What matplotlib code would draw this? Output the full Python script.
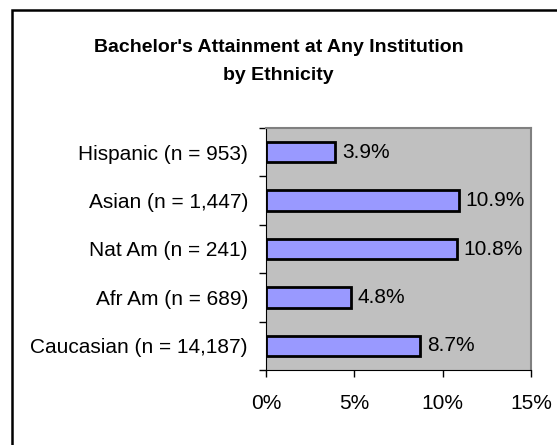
"""Bachelor's attainment at any institution, by ethnicity (horizontal bars)."""

import matplotlib

matplotlib.use("Agg")
import matplotlib.pyplot as plt
import numpy as np
from matplotlib.patches import Rectangle
from matplotlib.ticker import FixedLocator, PercentFormatter

# bottom to top, as drawn
GROUPS = [
    "Caucasian (n = 14,187)",
    "Afr Am (n = 689)",
    "Nat Am (n = 241)",
    "Asian (n = 1,447)",
    "Hispanic (n = 953)",
]
RATES = [8.7, 4.8, 10.8, 10.9, 3.9]
X_TICKS = [0, 5, 10, 15]

plt.rcParams["font.family"] = ["Liberation Sans", "DejaVu Sans"]

fig = plt.figure(figsize=(5.57, 4.45), dpi=100)
ax = fig.add_axes([266 / 557, 1 - 370 / 445, 265 / 557, 242 / 445])

# clipped chart-area border, like the spreadsheet export
fig.patches.append(
    Rectangle((12 / 557, -0.05), 1.2, 1 - 10 / 445 + 0.05,
              transform=fig.transFigure, fill=False,
              edgecolor="black", linewidth=1.8)
)

ypos = np.arange(len(GROUPS))
ax.set_facecolor("#C0C0C0")
bars = ax.barh(ypos, RATES, height=0.42, color="#9999FF",
               edgecolor="black", linewidth=2.0)
for bar, val in zip(bars, RATES):
    ax.text(bar.get_width() + 0.4, bar.get_y() + bar.get_height() / 2,
            f"{val:.1f}%", va="center", ha="left", fontsize=15)

ax.set_xlim(0, 15)
ax.set_ylim(-0.5, len(GROUPS) - 0.5)
ax.set_xticks(X_TICKS)
ax.xaxis.set_major_formatter(PercentFormatter(decimals=0))
ax.tick_params(axis="x", direction="out", length=5, width=1,
               labelsize=15, pad=12)

ax.set_yticks(ypos)
ax.set_yticklabels(GROUPS)
ax.tick_params(axis="y", which="major", length=0, labelsize=15, pad=13)
ax.yaxis.set_minor_locator(FixedLocator(np.arange(-0.5, len(GROUPS), 1.0)))
ax.tick_params(axis="y", which="minor", direction="out", length=5, width=1)

ax.spines["left"].set_color("black")
ax.spines["bottom"].set_color("black")
for side in ("top", "right"):
    ax.spines[side].set_color("#808080")
    ax.spines[side].set_linewidth(1.5)

fig.text(0.5, 1 - 48 / 445, "Bachelor's Attainment at Any Institution",
         ha="center", va="center", fontsize=14, fontweight="bold")
fig.text(0.5, 1 - 76 / 445, "by Ethnicity",
         ha="center", va="center", fontsize=14, fontweight="bold")

fig.savefig("out.png", dpi=100, facecolor="white")
